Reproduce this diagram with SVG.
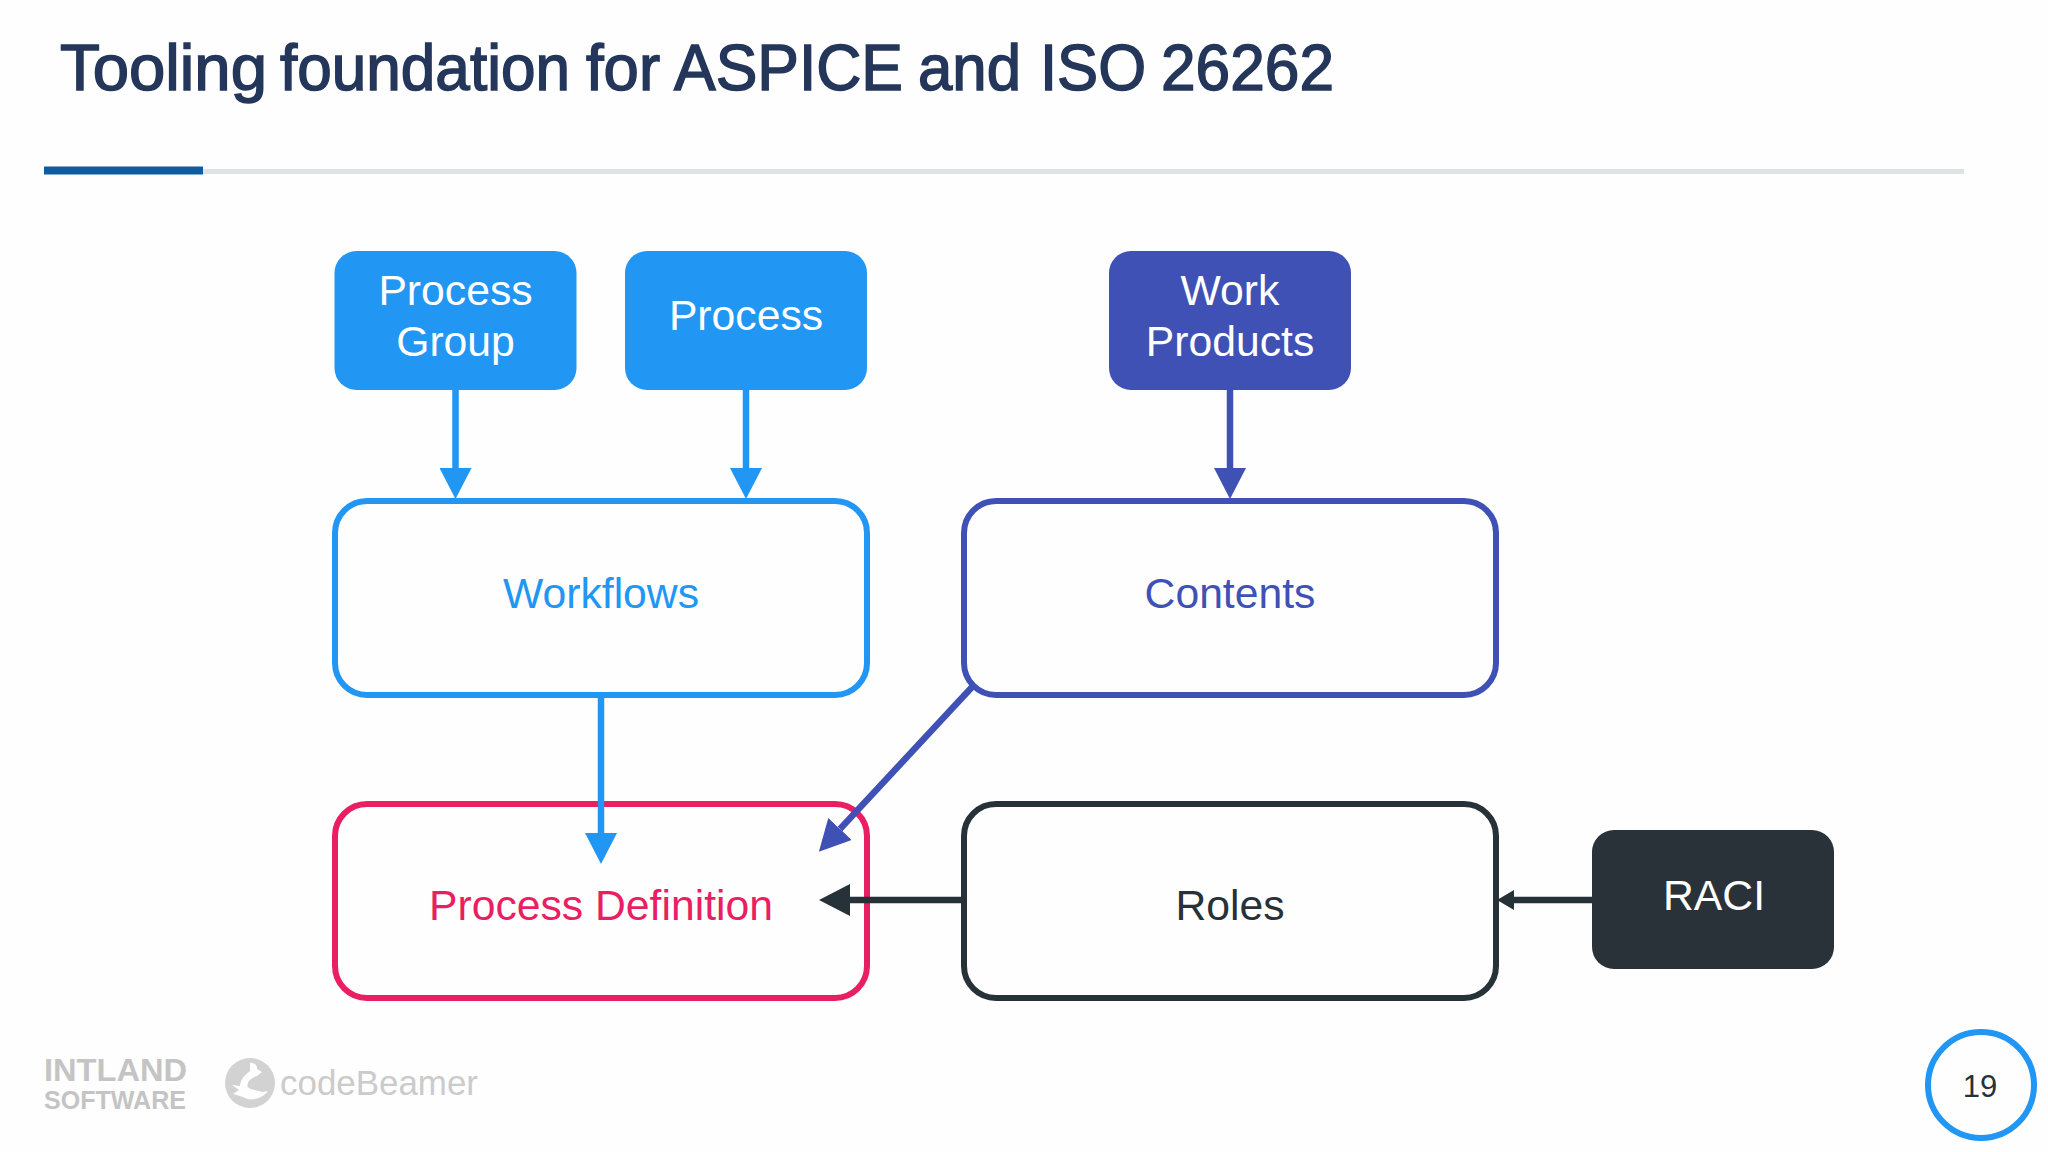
<svg xmlns="http://www.w3.org/2000/svg" width="2048" height="1152" viewBox="0 0 2048 1152">
<style>
text{font-family:"Liberation Sans",Arial,sans-serif;text-anchor:middle}
.lbl{font-size:42.7px}
.w{fill:#fff}
.solid{stroke:none}
.frame{fill:#fefefe;stroke-width:6px}
.conn{fill:none;stroke-width:6.500px}
</style>
<defs>
<marker id="hb" markerUnits="userSpaceOnUse" markerWidth="32" markerHeight="32" refX="0" refY="16" orient="auto"><path d="M0 0L31 16L0 32Z" fill="#2196f3"/></marker>
<marker id="hi" markerUnits="userSpaceOnUse" markerWidth="32" markerHeight="32" refX="0" refY="16" orient="auto"><path d="M0 0L31 16L0 32Z" fill="#3f51b5"/></marker>
<marker id="hd" markerUnits="userSpaceOnUse" markerWidth="32" markerHeight="32" refX="0" refY="16" orient="auto"><path d="M0 0L31 16L0 32Z" fill="#263238"/></marker>
<marker id="hs" markerUnits="userSpaceOnUse" markerWidth="18" markerHeight="20" refX="0" refY="10" orient="auto"><path d="M0 0L17 10L0 20Z" fill="#263238"/></marker>
</defs>
<rect width="2048" height="1152" fill="#fefefe"/>
<text id="title" y="90" style="text-anchor:start;font-size:64px;fill:#24365a;stroke:#24365a;stroke-width:1.500px"><tspan x="60" textLength="207" lengthAdjust="spacingAndGlyphs">Tooling</tspan> <tspan x="280" textLength="290" lengthAdjust="spacingAndGlyphs">foundation</tspan> <tspan x="586" textLength="74" lengthAdjust="spacingAndGlyphs">for</tspan> <tspan x="674" textLength="229" lengthAdjust="spacingAndGlyphs">ASPICE</tspan> <tspan x="918" textLength="103" lengthAdjust="spacingAndGlyphs">and</tspan> <tspan x="1040" textLength="106" lengthAdjust="spacingAndGlyphs">ISO</tspan> <tspan x="1161" textLength="173" lengthAdjust="spacingAndGlyphs">26262</tspan></text>
<rect x="203" y="169" width="1761" height="5" fill="#dde2e3"/>
<rect x="44" y="166.500" width="159" height="8" fill="#0f5c9e"/>

<g id="n-process-group"><rect class="solid" x="334.500" y="251" width="242" height="139" rx="22" fill="#2196f3"/><text class="lbl w" x="455.500" y="304.500">Process</text><text class="lbl w" x="455.500" y="356">Group</text></g>
<g id="n-process"><rect class="solid" x="625" y="251" width="242" height="139" rx="22" fill="#2196f3"/><text class="lbl w" x="746" y="330">Process</text></g>
<g id="n-work-products"><rect class="solid" x="1109" y="251" width="242" height="139" rx="22" fill="#3f51b5"/><text class="lbl w" x="1230" y="304.500">Work</text><text class="lbl w" x="1230" y="356">Products</text></g>
<g id="n-workflows"><rect class="frame" x="335" y="501" width="532" height="194" rx="32" stroke="#2196f3"/><text class="lbl" x="601" y="608" fill="#2196f3">Workflows</text></g>
<g id="n-contents"><rect class="frame" x="964" y="501" width="532" height="194" rx="32" stroke="#3f51b5"/><text class="lbl" x="1230" y="608" fill="#3f51b5">Contents</text></g>
<g id="n-process-definition"><rect class="frame" x="335" y="804" width="532" height="194" rx="32" stroke="#e91e63"/><text class="lbl" x="601" y="920" fill="#e91e63">Process Definition</text></g>
<g id="n-roles"><rect class="frame" x="964" y="804" width="532" height="194" rx="32" stroke="#263238"/><text class="lbl" x="1230" y="920" fill="#263238">Roles</text></g>
<g id="n-raci"><rect class="solid" x="1592" y="830" width="242" height="139" rx="22" fill="#293238"/><text class="lbl w" x="1714" y="910">RACI</text></g>

<g id="connectors">
<path class="conn" d="M455.500 390V468" stroke="#2196f3" marker-end="url(#hb)"/>
<path class="conn" d="M746 390V468" stroke="#2196f3" marker-end="url(#hb)"/>
<path class="conn" d="M1230 390V468" stroke="#3f51b5" marker-end="url(#hi)"/>
<path class="conn" d="M601 695V833" stroke="#2196f3" marker-end="url(#hb)"/>
<path class="conn" d="M973 686L840 829" stroke="#3f51b5" marker-end="url(#hi)"/>
<path class="conn" d="M964 900H850" stroke="#263238" marker-end="url(#hd)"/>
<path class="conn" d="M1592 900H1514" stroke="#263238" marker-end="url(#hs)"/>
</g>

<g id="logo">
<text x="115.500" y="1081" font-weight="bold" font-size="32" fill="#c4c4c4" textLength="143" lengthAdjust="spacingAndGlyphs">INTLAND</text>
<text x="115" y="1108.500" font-weight="bold" font-size="26" fill="#c4c4c4" textLength="142" lengthAdjust="spacingAndGlyphs">SOFTWARE</text>
<circle cx="250" cy="1083" r="25" fill="#d2d2d2"/>
<path d="M250 1063C254 1062 258 1066 257 1069L262 1072L257 1076C251 1078 246 1083 248 1087C251 1091 256 1089 262 1092L268 1091C262 1099 250 1102 243 1097L233 1094L239 1090L232 1085L240 1086C240 1079 246 1074 250 1071Z" fill="#fefefe"/>
<text x="379" y="1095" font-size="35" fill="#cbcbcb" textLength="198" lengthAdjust="spacingAndGlyphs">codeBeamer</text>
</g>
<g id="page-number"><circle cx="1981" cy="1085" r="53" fill="#fefefe" stroke="#2196f3" stroke-width="6"/><text x="1980" y="1097" font-size="31" fill="#263238">19</text></g>
</svg>
